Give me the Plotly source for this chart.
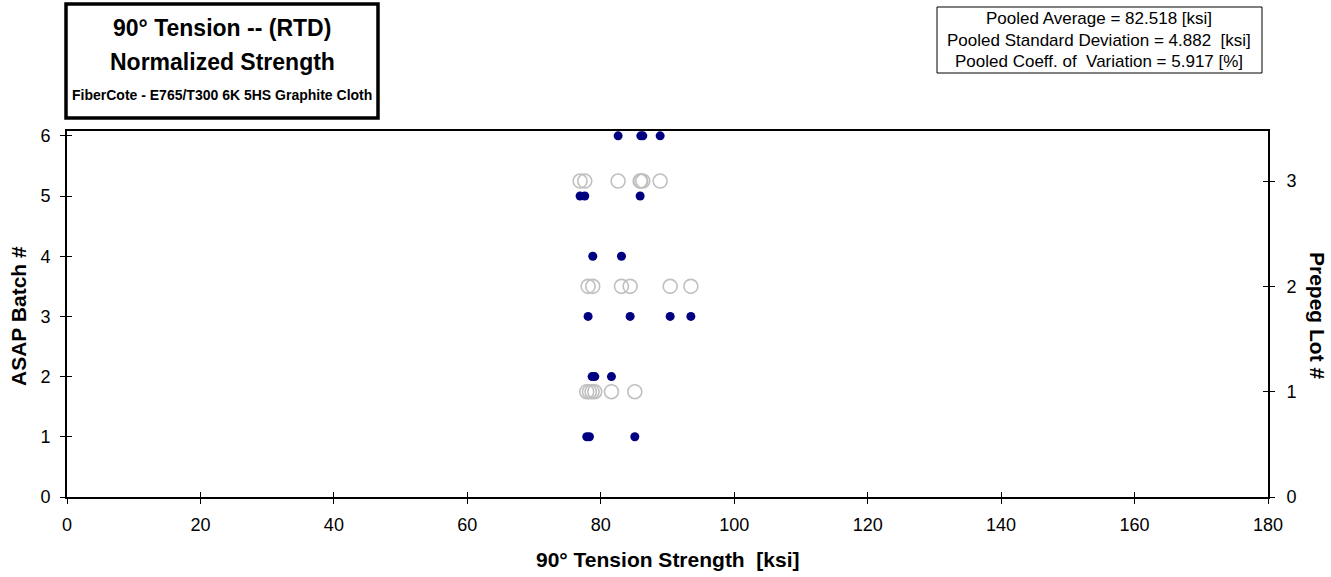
import plotly.graph_objects as go

# ---- data ----
batch_ids = [1, 2, 3, 4, 5, 6]
batch1 = [77.9, 78.3, 85.1]
batch2 = [78.7, 79.1, 81.6]
batch3 = [78.1, 84.4, 90.4, 93.5]
batch4 = [78.8, 83.1]
batch5 = [76.9, 77.6, 85.9]
batch6 = [82.6, 86.0, 86.3, 88.9]
batches = [batch1, batch2, batch3, batch4, batch5, batch6]

lot_ids = [1, 2, 3]
lot1 = batch1 + batch2
lot2 = batch3 + batch4
lot3 = batch5 + batch6
lots = [lot1, lot2, lot3]

x_ticks = [0, 20, 40, 60, 80, 100, 120, 140, 160, 180]
y_ticks = [0, 1, 2, 3, 4, 5, 6]
y2_ticks = [0, 1, 2, 3]

title_lines = ["90° Tension -- (RTD)", "Normalized Strength",
               "FiberCote - E765/T300 6K 5HS Graphite Cloth"]
stats_lines = ["Pooled Average = 82.518 [ksi]",
               "Pooled Standard Deviation = 4.882  [ksi]",
               "Pooled Coeff. of  Variation = 5.917 [%]"]
x_title = "90° Tension Strength  [ksi]"
y_title = "ASAP Batch #"
y2_title = "Prepeg Lot #"

FONT = "Arial, 'Liberation Sans', sans-serif"
NAVY = "#000080"
GRAY = "#C0C0C0"

# ---- build ----
lx, ly = [], []
for lid, vals in zip(lot_ids, lots):
    lx += vals
    ly += [lid] * len(vals)
bx, by = [], []
for bid, vals in zip(batch_ids, batches):
    bx += vals
    by += [bid] * len(vals)

fig = go.Figure()
fig.add_trace(go.Scatter(x=lx, y=ly, mode="markers", xaxis="x", yaxis="y2",
                         marker=dict(symbol="circle-open", size=14, color=GRAY,
                                     line=dict(width=1.6, color=GRAY)),
                         hoverinfo="x+y", showlegend=False))
fig.add_trace(go.Scatter(x=bx, y=by, mode="markers", xaxis="x", yaxis="y",
                         marker=dict(symbol="circle", size=9, color=NAVY),
                         hoverinfo="x+y", showlegend=False))
# empty traces to activate overlay axes used for the inner half of cross ticks
fig.add_trace(go.Scatter(x=[], y=[], xaxis="x2", yaxis="y3", showlegend=False))
fig.add_trace(go.Scatter(x=[], y=[], xaxis="x2", yaxis="y4", showlegend=False))

XR = [0, 180]
YR = [0, 6.08]
Y2R = [0, 3.475]
tickfont = dict(family=FONT, size=18, color="#000")

fig.update_layout(
    width=1331, height=577,
    margin=dict(l=67, r=63, t=131, b=80),
    paper_bgcolor="white", plot_bgcolor="white",
    font=dict(family=FONT, color="#000"),
    showlegend=False,
    xaxis=dict(range=XR, tickvals=x_ticks, ticks="outside", ticklen=5, tickwidth=1.3,
               tickcolor="#000", showline=True, linecolor="#000", linewidth=2,
               mirror=True, showgrid=False, zeroline=False, tickfont=tickfont,
               ticklabelstandoff=5),
    xaxis2=dict(range=XR, tickvals=x_ticks, overlaying="x", side="bottom", anchor="y",
                ticks="inside", ticklen=5, tickwidth=1.3, tickcolor="#000",
                showticklabels=False, showline=False, showgrid=False, zeroline=False),
    yaxis=dict(range=YR, tickvals=y_ticks, ticks="outside", ticklen=5, tickwidth=1.3,
               tickcolor="#000", showline=True, linecolor="#000", linewidth=2,
               showgrid=False, zeroline=False, tickfont=tickfont, ticklabelstandoff=6),
    yaxis2=dict(range=Y2R, tickvals=y2_ticks, overlaying="y", side="right", anchor="x",
                ticks="outside", ticklen=5, tickwidth=1.3, tickcolor="#000",
                showline=True, linecolor="#000", linewidth=2,
                showgrid=False, zeroline=False, tickfont=tickfont, ticklabelstandoff=8),
    yaxis3=dict(range=YR, tickvals=y_ticks, overlaying="y", side="left", anchor="x2",
                ticks="inside", ticklen=5, tickwidth=1.3, tickcolor="#000",
                showticklabels=False, showline=False, showgrid=False, zeroline=False),
    yaxis4=dict(range=Y2R, tickvals=y2_ticks, overlaying="y", side="right", anchor="x2",
                ticks="inside", ticklen=5, tickwidth=1.3, tickcolor="#000",
                showticklabels=False, showline=False, showgrid=False, zeroline=False),
)

def px2x(p):
    return (p - 67) / 1201.0

def py2y(p):
    return (497 - p) / 366.0

# title box
fig.add_shape(type="rect", xref="paper", yref="paper",
              x0=px2x(66), x1=px2x(378), y0=py2y(118), y1=py2y(4),
              line=dict(color="#000", width=3.5), fillcolor="white", layer="above")
title_y = [28, 62, 95]
title_sz = [23, 23, 14]
for t, yy, sz in zip(title_lines, title_y, title_sz):
    fig.add_annotation(text="<b>%s</b>" % t, xref="paper", yref="paper",
                       x=px2x(222), y=py2y(yy), xanchor="center", yanchor="middle",
                       showarrow=False, font=dict(family=FONT, size=sz, color="#000"))

# stats box
fig.add_shape(type="rect", xref="paper", yref="paper",
              x0=px2x(937), x1=px2x(1262), y0=py2y(73), y1=py2y(7),
              line=dict(color="#000", width=1), fillcolor="white", layer="above")
for t, yy in zip(stats_lines, [18, 40, 62]):
    fig.add_annotation(text=t, xref="paper", yref="paper",
                       x=px2x(1099), y=py2y(yy), xanchor="center", yanchor="middle",
                       showarrow=False, font=dict(family=FONT, size=17, color="#000"))

# axis titles
fig.add_annotation(text="<b>%s</b>" % x_title, xref="paper", yref="paper",
                   x=px2x(668), y=py2y(559), xanchor="center", yanchor="middle",
                   showarrow=False, font=dict(family=FONT, size=21, color="#000"))
fig.add_annotation(text="<b>%s</b>" % y_title, xref="paper", yref="paper",
                   x=px2x(18), y=py2y(316), xanchor="center", yanchor="middle",
                   textangle=-90, showarrow=False,
                   font=dict(family=FONT, size=21, color="#000"))
fig.add_annotation(text="<b>%s</b>" % y2_title, xref="paper", yref="paper",
                   x=px2x(1318), y=py2y(316), xanchor="center", yanchor="middle",
                   textangle=90, showarrow=False,
                   font=dict(family=FONT, size=21, color="#000"))

fig.write_html("out.html")
